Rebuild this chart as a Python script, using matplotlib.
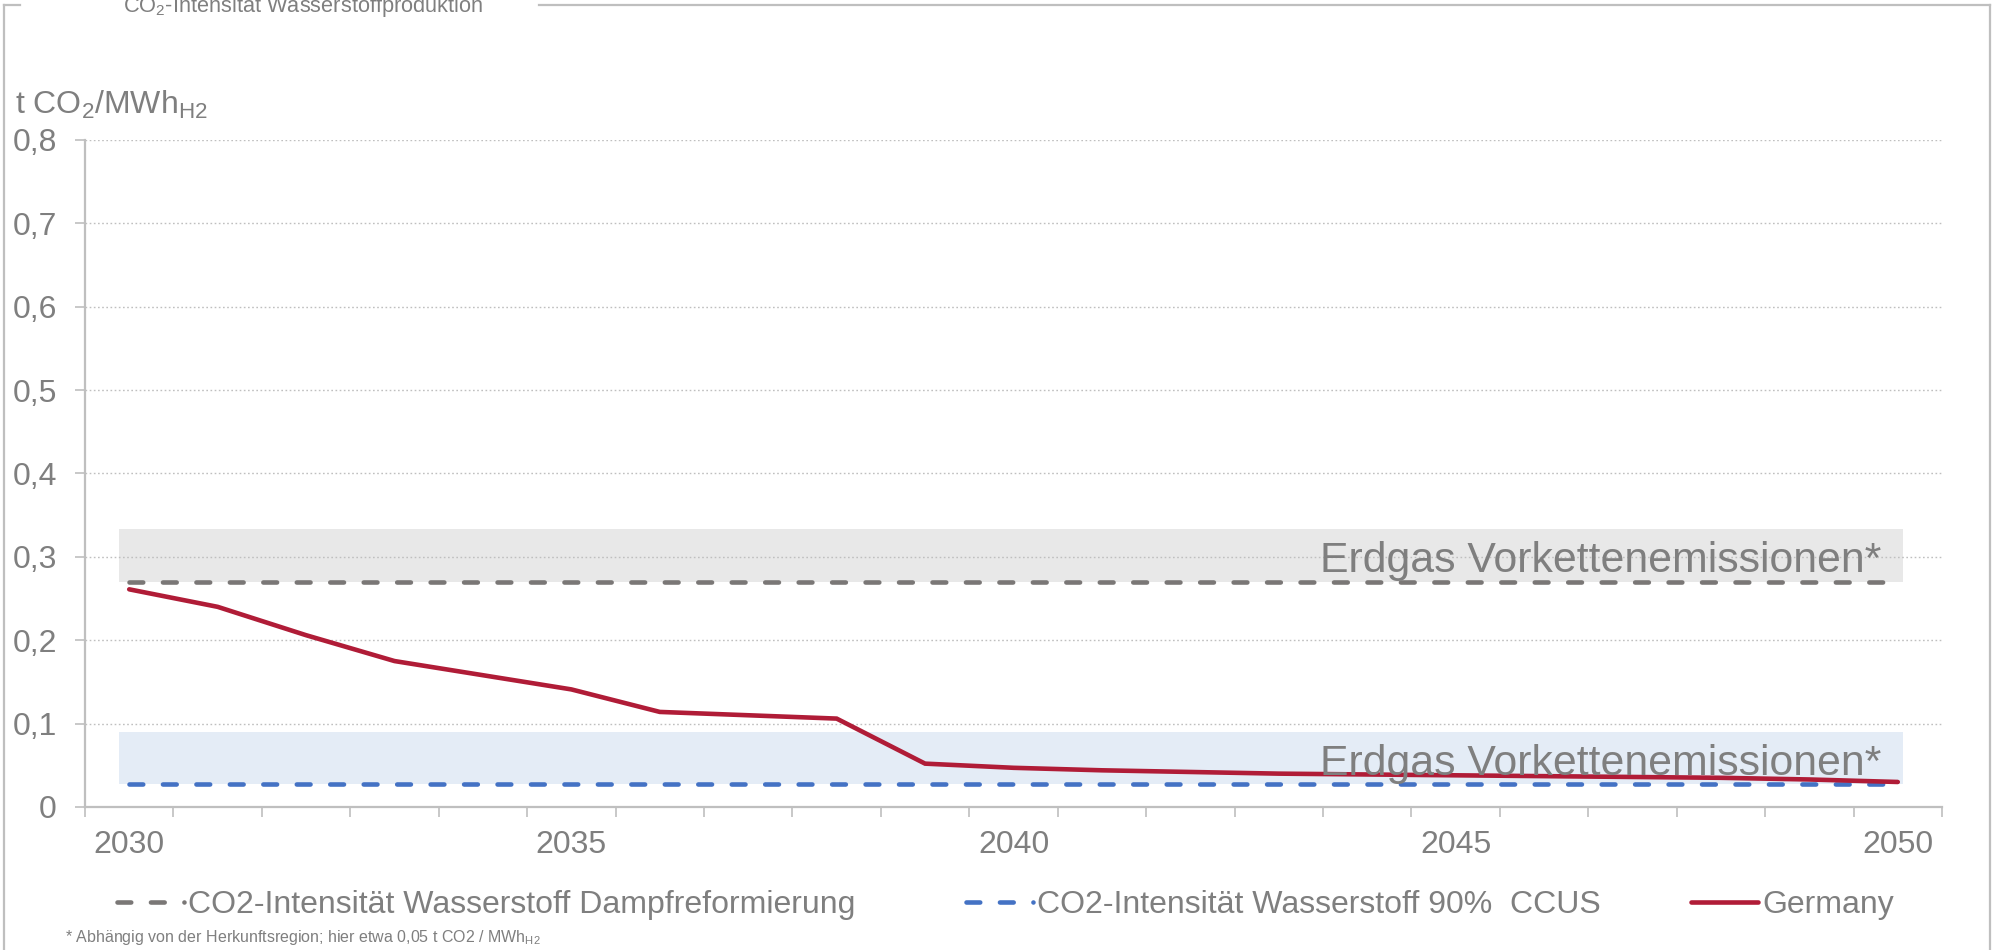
import matplotlib
matplotlib.use("Agg")
import matplotlib.pyplot as plt
from matplotlib.lines import Line2D
from matplotlib.ticker import FixedLocator, FuncFormatter

plt.rcParams['font.family'] = ['Liberation Sans', 'DejaVu Sans']
plt.rcParams['mathtext.fontset'] = 'custom'
plt.rcParams['mathtext.rm'] = 'Liberation Sans'
plt.rcParams['mathtext.it'] = 'Liberation Sans:italic'
plt.rcParams['mathtext.bf'] = 'Liberation Sans:bold'

# ---------------- data ----------------
years = [2030, 2031, 2032, 2033, 2034, 2035, 2036, 2037, 2038, 2039, 2040,
         2041, 2042, 2043, 2044, 2045, 2046, 2047, 2048, 2049, 2050]
dampfreformierung = [0.27, 0.27, 0.27, 0.27, 0.27, 0.27, 0.27, 0.27, 0.27, 0.27, 0.27,
                     0.27, 0.27, 0.27, 0.27, 0.27, 0.27, 0.27, 0.27, 0.27, 0.27]
ccus90 = [0.027, 0.027, 0.027, 0.027, 0.027, 0.027, 0.027, 0.027, 0.027, 0.027, 0.027,
          0.027, 0.027, 0.027, 0.027, 0.027, 0.027, 0.027, 0.027, 0.027, 0.027]
germany = [0.261, 0.240, 0.206, 0.175, 0.158, 0.141, 0.114, 0.110, 0.106, 0.052, 0.047,
           0.044, 0.042, 0.040, 0.039, 0.038, 0.037, 0.036, 0.035, 0.033, 0.030]
band_grey = (0.27, 0.333)
band_blue = (0.027, 0.090)
band_label = "Erdgas Vorkettenemissionen*"
series_labels = ["CO2-Intensität Wasserstoff Dampfreformierung",
                 "CO2-Intensität Wasserstoff 90%  CCUS",
                 "Germany"]
yticks = [0, 0.1, 0.2, 0.3, 0.4, 0.5, 0.6, 0.7, 0.8]
xlabel_years = [2030, 2035, 2040, 2045, 2050]

# ---------------- style ----------------
TXT = '#7f7f7f'
AX = '#bfbfbf'
C_GREY = '#7a7776'
C_BLUE = '#4472c4'
C_RED = '#b01c37'
W, H = 1993, 950
FS = 23

fig = plt.figure(figsize=(W / 100, H / 100), dpi=100)
ax = fig.add_axes([85 / W, 1 - 807 / H, (1942 - 85) / W, (807 - 139.8) / H])

x = list(range(len(years)))
n = len(years)

# bands (Erdgas Vorkettenemissionen)
bx = [-0.11, n - 1 + 0.06]
ax.fill_between(bx, [band_grey[0]] * 2, [band_grey[1]] * 2, color='#e8e8e8', lw=0, zorder=0.1)
ax.fill_between(bx, [band_blue[0]] * 2, [band_blue[1]] * 2, color='#e4ecf6', lw=0, zorder=0.1)

dash = (3.0, 4.3)
l1, = ax.plot(x, dampfreformierung, color=C_GREY, lw=3.3, dashes=dash,
              dash_capstyle='round', zorder=3, label=series_labels[0])
l2, = ax.plot(x, ccus90, color=C_BLUE, lw=3.3, dashes=dash,
              dash_capstyle='round', zorder=3, label=series_labels[1])
l3, = ax.plot(x, germany, color=C_RED, lw=3.3, solid_capstyle='round',
              solid_joinstyle='miter', zorder=4, label=series_labels[2])

ax.text(19.81, band_grey[0] + 0.012, band_label, ha='right', va='baseline',
        fontsize=30.8, color=TXT, zorder=5)
ax.text(19.81, band_blue[0] + 0.011, band_label, ha='right', va='baseline',
        fontsize=30.8, color=TXT, zorder=5)

# axes
ax.set_xlim(-0.5, n - 0.5)
ax.set_ylim(0, 0.8)
for s in ['top', 'right']:
    ax.spines[s].set_visible(False)
for s in ['left', 'bottom']:
    ax.spines[s].set_color(AX)
    ax.spines[s].set_linewidth(1.6)

ax.yaxis.set_major_locator(FixedLocator(yticks))
ax.yaxis.set_major_formatter(FuncFormatter(lambda v, p: '0' if v == 0 else f'{v:.1f}'.replace('.', ',')))
ax.tick_params(axis='y', length=7.2, width=1.2, color=AX, direction='out',
               labelsize=FS, labelcolor=TXT, pad=13)

ax.xaxis.set_major_locator(FixedLocator([years.index(y) for y in xlabel_years]))
ax.set_xticklabels([str(y) for y in xlabel_years])
ax.xaxis.set_minor_locator(FixedLocator([i - 0.5 for i in range(n + 1)]))
ax.tick_params(axis='x', which='major', length=0, labelsize=FS, labelcolor=TXT, pad=16.5)
ax.tick_params(axis='x', which='minor', length=7.2, width=1.2, color=AX, direction='out')

ax.set_axisbelow(True)
ax.yaxis.grid(True, color=AX, lw=1.0, linestyle=(0, (1.2, 1.8)))
for gl in ax.yaxis.get_gridlines():
    gl.set_zorder(0.5)

# y unit label
fig.text(15 / W, 1 - 114 / H, 't CO$_2$/MWh$_{\\mathrm{H2}}$', fontsize=FS, color=TXT,
         ha='left', va='baseline')

# legend (three single-entry legends, positioned like the original)
ly = 1 - 905 / H
for handle, xs in [(l1, 117), (l2, 966), (l3, 1691)]:
    fig.legend(handles=[handle], loc='center left', bbox_to_anchor=(xs / W, ly),
               frameon=False, fontsize=FS, handlelength=2.1, handletextpad=0.12,
               borderpad=0, borderaxespad=0, labelcolor=TXT)

# footnote
fig.text(65 / W, 1 - 942 / H,
         '* Abhängig von der Herkunftsregion; hier etwa 0,05 t CO2 / MWh$_{\\mathrm{H2}}$',
         fontsize=11.5, color=TXT, ha='left', va='baseline')

# title (cut at top, as in original)
fig.text(123 / W, 1 - 12 / H, 'CO$_2$-Intensität Wasserstoffproduktion', fontsize=15.7,
         color=TXT, ha='left', va='baseline')

# frame
def fline(x0, y0, x1, y1):
    fig.add_artist(Line2D([x0 / W, x1 / W], [1 - y0 / H, 1 - y1 / H],
                          transform=fig.transFigure, color='#bfbfbf', lw=1.6))

fline(4, 5, 4, H)
fline(4, 5, 20, 5)
fline(539, 5, 1990, 5)
fline(1990, 5, 1990, H)

fig.savefig('out.png', dpi=100)
